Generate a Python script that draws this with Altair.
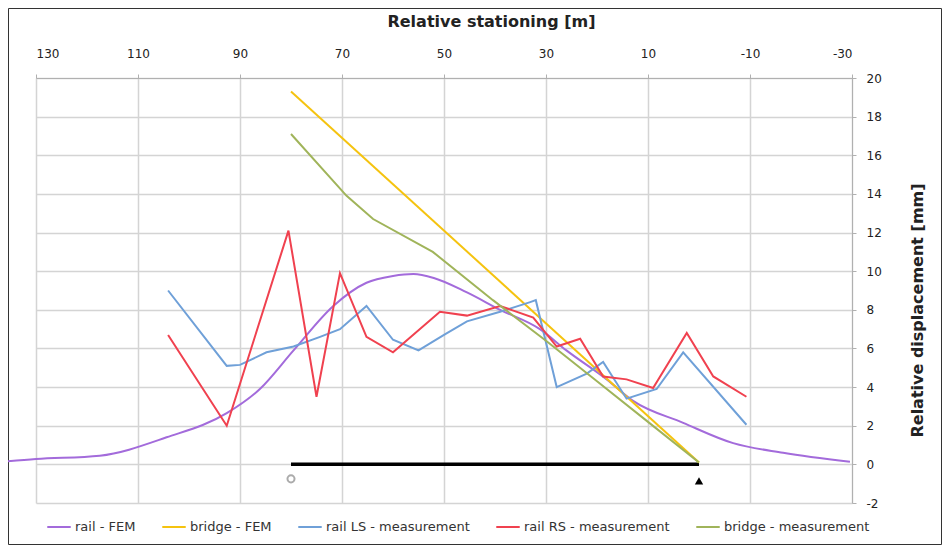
import altair as alt
import pandas as pd

# ---- data ----
rail_fem_x = [137, 130, 117.5, 104.4, 92.6, 86.1, 79.5, 71.7, 65.2, 60, 56, 52, 45.5, 39, 31.2, 26, 18.1, 13, 3.1, -6.7, -16.5, -29.6]
rail_fem_y = [0.13, 0.28, 0.45, 1.4, 2.65, 3.9, 5.9, 8.2, 9.4, 9.75, 9.85, 9.65, 8.9, 8.0, 7.0, 5.9, 4.4, 3.3, 2.15, 1.1, 0.6, 0.13]

bridge_fem_x = [80, 0]
bridge_fem_y = [19.3, 0.1]

rail_ls_x = [104.1, 92.6, 90, 84.8, 79.5, 74.3, 70.4, 65.2, 60, 55, 50, 45.5, 39, 33.1, 32, 27.9, 22, 18.8, 14.2, 8.3, 3.1, -9.3]
rail_ls_y = [9.0, 5.1, 5.15, 5.8, 6.1, 6.6, 7.0, 8.2, 6.45, 5.9, 6.7, 7.4, 7.9, 8.4, 8.5, 4.0, 4.7, 5.3, 3.4, 3.9, 5.8, 2.05]

rail_rs_x = [104.1, 92.6, 80.5, 75, 70.4, 65.2, 60, 50.8, 45.5, 39, 32.5, 27.9, 23.3, 18.8, 14.2, 9.0, 2.4, -2.8, -9.3]
rail_rs_y = [6.7, 2.0, 12.1, 3.5, 9.9, 6.6, 5.8, 7.9, 7.7, 8.2, 7.6, 6.1, 6.5, 4.55, 4.4, 3.95, 6.8, 4.55, 3.5]

bridge_meas_x = [80, 69.1, 63.9, 52.2, 40.4, 30, 20, 10, 0]
bridge_meas_y = [17.1, 13.9, 12.7, 11.0, 8.5, 6.4, 4.3, 2.2, 0.1]

bridge_x = [80, 0]
bridge_y = [0, 0]

series_names = ["rail - FEM", "bridge - FEM", "rail LS - measurement", "rail RS - measurement", "bridge - measurement"]
series_colors = ["#A36BDB", "#F5C30F", "#6FA0D8", "#F0414F", "#A0B45A"]

x_ticks = [130, 110, 90, 70, 50, 30, 10, -10, -30]
y_ticks = [-2, 0, 2, 4, 6, 8, 10, 12, 14, 16, 18, 20]

# ---- build table ----
rows = []
for name, xs, ys in zip(series_names,
                        [rail_fem_x, bridge_fem_x, rail_ls_x, rail_rs_x, bridge_meas_x],
                        [rail_fem_y, bridge_fem_y, rail_ls_y, rail_rs_y, bridge_meas_y]):
    for i, (a, b) in enumerate(zip(xs, ys)):
        rows.append({"series": name, "x": a, "y": b, "order": i})
df = pd.DataFrame(rows)
bridge_df = pd.DataFrame({"x": bridge_x, "y": bridge_y})
supports_df = pd.DataFrame({"x": [80, 0], "y": [-0.75, -0.85], "kind": ["roller", "pin"]})

FONT = "DejaVu Sans"

xscale = alt.Scale(domain=[130, -30], nice=False, zero=False)
yscale = alt.Scale(domain=[-2, 20], nice=False, zero=False)

xenc = alt.X("x:Q", scale=xscale, axis=alt.Axis(
    orient="top", values=x_ticks, title="Relative stationing [m]",
    grid=True, gridColor="#D4D4D4", gridWidth=1.5, labelOverlap=False,
    domainColor="#B0B0B0", tickColor="#B0B0B0", tickSize=4,
    labelFontSize=12, labelColor="#222222", labelPadding=14, labelFont=FONT,
    labelExpr="replace(datum.label, '\u2212', '-')",
    titleFontSize=16, titleFontWeight="bold", titleColor="#222222", titleFont=FONT,
    titlePadding=18, titleX=455))
yenc = alt.Y("y:Q", scale=yscale, axis=alt.Axis(
    orient="right", values=y_ticks, title="Relative displacement [mm]",
    grid=True, gridColor="#D4D4D4", gridWidth=1.5, labelOverlap=False,
    domainColor="#B0B0B0", tickColor="#B0B0B0", tickSize=4,
    labelFontSize=12, labelColor="#222222", labelPadding=10, labelFont=FONT,
    labelExpr="replace(datum.label, '\u2212', '-')",
    titleFontSize=16, titleFontWeight="bold", titleColor="#222222", titleFont=FONT,
    titleAngle=270, titlePadding=44, titleY=232))

color_enc = alt.Color("series:N", sort=series_names,
                      scale=alt.Scale(domain=series_names, range=series_colors),
                      legend=alt.Legend(title=None, orient="none", direction="horizontal",
                                        legendX=10, legendY=436, symbolType="stroke",
                                        symbolStrokeWidth=2, symbolSize=550, labelFontSize=13,
                                        labelFont=FONT, labelColor="#333333", columnPadding=22,
                                        labelOffset=3, labelLimit=300))

frame = alt.Chart(pd.DataFrame({"a": [0]})).mark_rect(fill=None, stroke="#333333", strokeWidth=1).encode(
    x=alt.value(-27.5), x2=alt.value(905.5), y=alt.value(-69.5), y2=alt.value(466.5))

bridge = alt.Chart(bridge_df).mark_line(color="black", strokeWidth=3.5).encode(x=xenc, y=yenc)

fem = alt.Chart(df[df.series == "rail - FEM"]).mark_line(strokeWidth=2, interpolate="monotone").encode(
    x=xenc, y=yenc, color=color_enc, order="order:Q")

lines = alt.Chart(df[df.series != "rail - FEM"]).mark_line(strokeWidth=2).encode(
    x=xenc, y=yenc, color=color_enc, order="order:Q", detail="series:N")

pin = alt.Chart(supports_df[supports_df.kind == "pin"]).mark_point(
    shape="triangle-up", filled=True, color="black", size=70, opacity=1).encode(x=xenc, y=yenc)
roller = alt.Chart(supports_df[supports_df.kind == "roller"]).mark_point(
    shape="circle", filled=False, color="#888888", size=50, strokeWidth=2).encode(x=xenc, y=yenc)

chart = alt.layer(frame, bridge, fem, lines, pin, roller).properties(
    width=816, height=425,
    autosize=alt.AutoSizeParams(type="none"),
    padding={"left": 28, "top": 70, "right": 90, "bottom": 42},
    background="white",
).configure_view(stroke=None)

chart.save("out.html", embed_options={"renderer": "svg", "actions": False})
